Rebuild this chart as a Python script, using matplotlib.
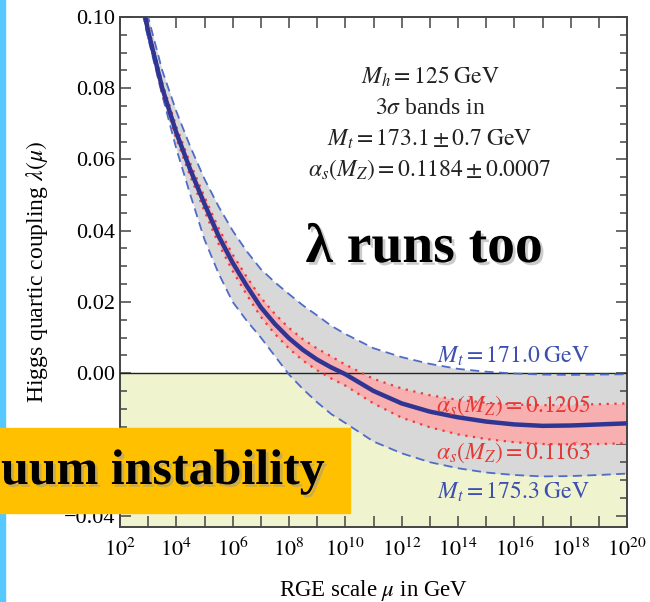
import matplotlib
matplotlib.use("Agg")
import matplotlib.pyplot as plt
import matplotlib.patheffects as pe
from matplotlib.patches import Rectangle
from matplotlib.ticker import FixedLocator, NullLocator
import numpy as np

plt.rcParams['font.family'] = ['Liberation Serif', 'DejaVu Serif']
plt.rcParams['mathtext.fontset'] = 'stix'

# log10 of RGE scale mu in GeV
log_mu = [2.5, 3.0, 3.5, 4.0, 4.5, 5.0, 5.5, 6.0, 6.5, 7.0, 7.5, 8.0, 8.5, 9.0, 9.5,
          10, 11, 12, 13, 14, 15, 16, 17, 18, 19, 20]

# central value  Mt = 173.1, alpha_s = 0.1184
lam_central = [0.115, 0.096, 0.080, 0.0675, 0.0570, 0.0475, 0.0385, 0.0310, 0.0245, 0.0185,
               0.0138, 0.0098, 0.0065, 0.0038, 0.0016, -0.0003, -0.0050, -0.0085, -0.0108,
               -0.0124, -0.0136, -0.0144, -0.0148, -0.0147, -0.0144, -0.0141]
# alpha_s band
lam_as_hi = [0.1165, 0.0975, 0.0815, 0.0692, 0.0588, 0.0495, 0.0407, 0.0333, 0.0270, 0.0212,
             0.0166, 0.0127, 0.0095, 0.0069, 0.0047, 0.0024, -0.0016, -0.0043, -0.0062,
             -0.0075, -0.0083, -0.0088, -0.0090, -0.0089, -0.0087, -0.0085]
lam_as_lo = [0.1135, 0.0945, 0.0785, 0.0658, 0.0552, 0.0455, 0.0363, 0.0287, 0.0220, 0.0158,
             0.0110, 0.0069, 0.0035, 0.0008, -0.0015, -0.0035, -0.0085, -0.0125, -0.0152,
             -0.0172, -0.0185, -0.0194, -0.0199, -0.0200, -0.0199, -0.0197]
# top mass band
lam_mt_lo = [0.120, 0.100, 0.085, 0.0735, 0.0635, 0.0545, 0.0468, 0.0400, 0.0342, 0.0292,
             0.0255, 0.0222, 0.0190, 0.0162, 0.0133, 0.0110, 0.0070, 0.0045, 0.0026,
             0.0012, 0.0004, -0.0001, -0.0004, -0.0005, -0.0004, -0.0003]
lam_mt_hi = [0.112, 0.094, 0.078, 0.063, 0.050, 0.0375, 0.0280, 0.0200, 0.0147, 0.0100,
             0.0048, -0.0004, -0.0045, -0.0082, -0.0115, -0.0140, -0.0192, -0.0225, -0.0250,
             -0.0267, -0.0279, -0.0286, -0.0290, -0.0289, -0.0286, -0.0282]

x_tick_exp = list(range(2, 21))
y_ticks = [-0.04, -0.02, 0.00, 0.02, 0.04, 0.06, 0.08, 0.10]
y_ticklabels = ['\u22120.04', '', '0.00', '0.02', '0.04', '0.06', '0.08', '0.10']

W, H = 650, 602
def fx(x):
    return x / W
def fy(y):
    return 1 - y / H

fig = plt.figure(figsize=(6.5, 6.02), dpi=100)
ax = fig.add_axes([fx(120), fy(527), (627 - 120) / W, (527 - 17) / H])

mu = 10.0 ** np.array(log_mu)

ax.axhspan(-0.05, 0, color='#EFF4CF', zorder=0)
ax.fill_between(mu, lam_mt_hi, lam_mt_lo, color='#D8D8D8', lw=0, zorder=1)
ax.fill_between(mu, lam_as_lo, lam_as_hi, color='#F7AFAF', lw=0, zorder=2)
ax.axhline(0, color='#222222', lw=1.0, zorder=3)

ax.plot(mu, lam_mt_lo, ls=(0, (5, 3)), color='#4F6CC9', lw=1.3, zorder=4)
ax.plot(mu, lam_mt_hi, ls=(0, (5, 3)), color='#4F6CC9', lw=1.3, zorder=4)
ax.plot(mu, lam_as_hi, ls=(0, (1, 2.5)), color='#EE3B3B', lw=1.6, zorder=5)
ax.plot(mu, lam_as_lo, ls=(0, (1, 2.5)), color='#EE3B3B', lw=1.6, zorder=5)
ax.plot(mu, lam_central, color='#2F3593', lw=3.2, zorder=6)

ax.set_xscale('log')
ax.set_xlim(1e2, 1e20)
ax.set_ylim(-0.0432, 0.10)

ax.xaxis.set_major_locator(FixedLocator([10.0 ** k for k in x_tick_exp]))
ax.xaxis.set_minor_locator(NullLocator())
ax.set_xticklabels([r'$10^{%d}$' % k if k % 2 == 0 else '' for k in x_tick_exp])
ax.set_yticks(y_ticks)
ax.set_yticklabels(y_ticklabels)
ax.yaxis.set_minor_locator(FixedLocator(np.arange(-0.04, 0.1001, 0.005)))

ax.tick_params(which='both', direction='in', top=True, right=True, color='#444444',
               labelsize=16, width=1.1)
ax.tick_params(which='major', length=8)
ax.tick_params(which='minor', length=5)
ax.tick_params(axis='x', pad=8)
for s in ax.spines.values():
    s.set_color('#444444')
    s.set_linewidth(1.4)

ax.set_xlabel(r'RGE scale $\mu$ in GeV', fontsize=16.5, labelpad=12)
ax.set_ylabel(r'Higgs quartic coupling $\lambda(\mu)$', fontsize=17, labelpad=10)

# info text block
info = [r'$M_h = 125\;\mathrm{GeV}$', r'$3\sigma$ bands in',
        r'$M_t = 173.1 \pm 0.7\;\mathrm{GeV}$', r'$\alpha_s(M_Z) = 0.1184 \pm 0.0007$']
for i, t in enumerate(info):
    fig.text(fx(430), fy(77 + 31 * i), t, fontsize=17, ha='center', va='center', color='#222222')

# curve labels
fig.text(fx(513), fy(356), r'$M_t = 171.0\;\mathrm{GeV}$', fontsize=17, ha='center', va='center',
         color='#3D4FB0', zorder=10)
fig.text(fx(513), fy(406), r'$\alpha_s(M_Z) = 0.1205$', fontsize=17, ha='center', va='center',
         color='#E53935', zorder=10)
fig.text(fx(513), fy(452), r'$\alpha_s(M_Z) = 0.1163$', fontsize=17, ha='center', va='center',
         color='#E53935', zorder=10)
fig.text(fx(513), fy(492), r'$M_t = 175.3\;\mathrm{GeV}$', fontsize=17, ha='center', va='center',
         color='#3D4FB0', zorder=10)

shadow = [pe.withSimplePatchShadow(offset=(2, -2), shadow_rgbFace='#999999', alpha=0.5)]

fig.text(fx(424), fy(248), '\u03bb runs too', fontsize=40, fontweight='bold', ha='center',
         va='center', color='black', path_effects=shadow)

# slide decorations
fig.patches.append(Rectangle((0, 0), fx(5), 1, transform=fig.transFigure,
                             color='#55C8FF', zorder=5))
fig.patches.append(Rectangle((0, fy(513)), fx(350), (513 - 428) / H, transform=fig.transFigure,
                             color='#FFC000', zorder=6))
fig.text(fx(1), fy(472), 'uum instability', fontsize=36, fontweight='bold', ha='left',
         va='center', color='black', path_effects=shadow, zorder=7)

fig.savefig('out.png', dpi=100)
